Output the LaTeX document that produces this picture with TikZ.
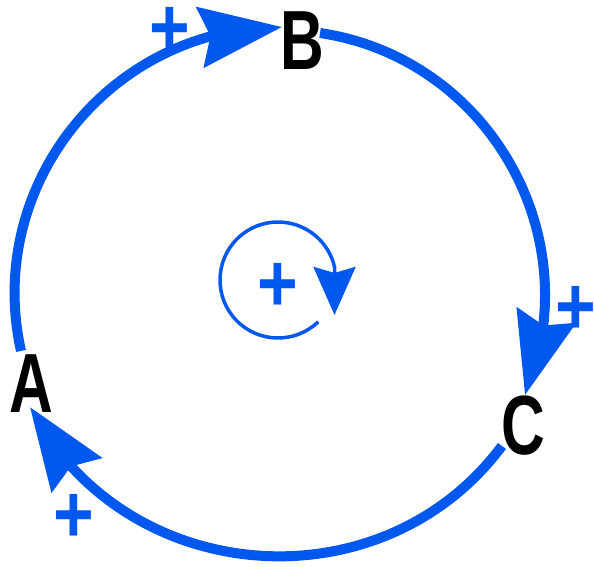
\documentclass[tikz,border=0pt]{standalone}
\usepackage{fontspec}
\usepackage{graphicx}
\usetikzlibrary{arrows.meta,bending}
\newfontfamily\loopfont{Liberation Sans}
\definecolor{loopblue}{RGB}{0,88,238}
\newcommand{\slim}[2]{\scalebox{#1}[1]{#2}}
\tikzset{
  varname/.style={font=\loopfont\bfseries\fontsize{84}{84}\selectfont, inner sep=0pt},
  polarity/.style={font=\loopfont\bfseries\fontsize{82}{82}\selectfont, text=loopblue, inner sep=0pt},
  link/.style={draw=loopblue, line width=10pt,
    -{Stealth[length=82pt,width=60pt,inset=10pt,flex]}},
  looparrow/.style={draw=loopblue, line width=3.5pt,
    -{Stealth[length=48pt,width=42pt,inset=6pt]}}}

\begin{document}
\begin{tikzpicture}[x=1pt,y=1pt]
  \useasboundingbox (0,0) rectangle (594,566);
  \node[varname] (A) at (31,182)  {\slim{0.72}{A}};
  \node[varname] (B) at (302,525) {\slim{0.72}{B}};
  \node[varname] (C) at (523,140) {\slim{0.72}{C}};
  % links round the big loop
  \draw[link] ([shift={(-10,4)}]A.north) to[bend left=51.4, looseness=1.05] ([shift={(2,14)}]B.west);
  \draw[link] ([shift={(-4,8)}]B.east) to[bend left=52, looseness=1.05] ([shift={(2,1)}]C.north);
  \draw[link] ([shift={(1,10)}]C.south west) to[bend left=58, looseness=1.1] ([shift={(-1,6)}]A.south);
  \node[polarity] (pab) at (170,535) {\slim{0.85}{+}};
  \node[polarity] (pbc) at (576,256) {\slim{0.85}{+}};
  \node[polarity] (pca) at (74,48)   {\slim{0.85}{+}};
  % loop sign in the middle
  \coordinate (mid) at (278,286);
  \draw[looparrow] (mid) ++(-46:58) arc[start angle=-46, end angle=-347, radius=58] -- ++(0,-48);
  \node[polarity] (ploop) at (278,279) {\slim{0.85}{+}};
\end{tikzpicture}
\end{document}
